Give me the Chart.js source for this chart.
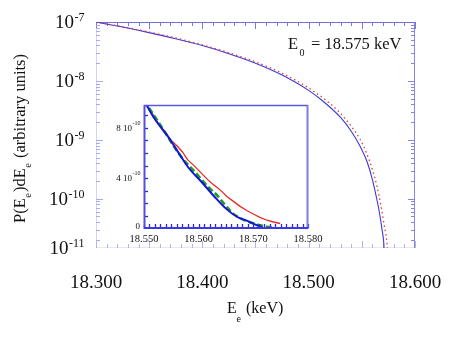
<!DOCTYPE html>
<html><head><meta charset="utf-8">
<script src="https://cdn.jsdelivr.net/npm/chart.js@4.4.1/dist/chart.umd.min.js"></script>
<style>
html,body{margin:0;padding:0;background:#fff;}
#wrap{position:relative;width:471px;height:339px;overflow:hidden;background:#fff;}
#main{position:absolute;left:0;top:0;}
#inset{position:absolute;left:100px;top:95px;}
</style></head><body>
<div id="wrap"><canvas id="main" width="471" height="339"></canvas><canvas id="inset" width="240" height="150"></canvas></div>
<script>
// ---------- data ----------
const mainEnergyBlue = [18.300, 18.325, 18.350, 18.375, 18.400, 18.425, 18.450, 18.475, 18.500, 18.515, 18.530, 18.540, 18.548, 18.555, 18.560, 18.564, 18.567, 18.569, 18.5705, 18.5714];
const mainBlue       = [1.00e-7, 8.2e-8, 6.6e-8, 5.2e-8, 3.98e-8, 2.9e-8, 2.0e-8, 1.26e-8, 6.9e-9, 4.3e-9, 2.4e-9, 1.4e-9, 8.0e-10, 4.2e-10, 2.1e-10, 1.0e-10, 5.2e-11, 3.0e-11, 1.9e-11, 1.0e-11];
const mainEnergyRed  = [18.300, 18.325, 18.350, 18.375, 18.400, 18.425, 18.450, 18.475, 18.500, 18.515, 18.530, 18.540, 18.548, 18.555, 18.560, 18.564, 18.568, 18.571, 18.5735, 18.5748];
const mainRed        = [1.0e-7, 8.3e-8, 6.75e-8, 5.35e-8, 4.1e-8, 3.0e-8, 2.1e-8, 1.35e-8, 7.6e-9, 4.9e-9, 2.8e-9, 1.7e-9, 1.05e-9, 5.6e-10, 3.1e-10, 1.7e-10, 7.6e-11, 3.6e-11, 1.9e-11, 1.0e-11];

const insetEnergyBlue = [18.5500, 18.5520, 18.5544, 18.5565, 18.5580, 18.5605, 18.5629, 18.5650, 18.5670, 18.5690, 18.5705, 18.5718];
const insetBlue       = [1.02e-9, 8.7e-10, 7.3e-10, 5.9e-10, 4.9e-10, 3.7e-10, 2.5e-10, 1.55e-10, 0.9e-10, 0.55e-10, 0.25e-10, 0];
const insetEnergyRed  = [18.5500, 18.5526, 18.5540, 18.5550, 18.5562, 18.5570, 18.5580, 18.5590, 18.5599, 18.5608, 18.5617, 18.5626, 18.5635, 18.5644, 18.5652, 18.5663, 18.5675, 18.5688, 18.5700, 18.5712, 18.5725, 18.5737, 18.5749];
const insetRed        = [1.02e-9, 8.4e-10, 7.6e-10, 7.0e-10, 6.5e-10, 6.1e-10, 5.45e-10, 5.05e-10, 4.65e-10, 4.25e-10, 3.85e-10, 3.5e-10, 3.2e-10, 2.85e-10, 2.5e-10, 2.15e-10, 1.75e-10, 1.4e-10, 1.12e-10, 0.85e-10, 0.62e-10, 0.48e-10, 0.36e-10];
const insetEnergyGreen = [18.5500, 18.5532, 18.5568, 18.5599, 18.5617, 18.5635, 18.5650, 18.5663, 18.5676, 18.5688, 18.5700, 18.5712, 18.5724, 18.5737];
const insetGreen       = [1.02e-9, 8.1e-10, 5.7e-10, 4.2e-10, 3.3e-10, 2.55e-10, 1.75e-10, 1.15e-10, 0.8e-10, 0.55e-10, 0.38e-10, 0.22e-10, 0.1e-10, 0];

// ---------- axes / tick labels ----------
const mainXMin = 18.3, mainXMax = 18.6;
const mainYMin = 1.46e-11, mainYMax = 1e-7;
const mainXTicks = [18.3, 18.4, 18.5, 18.6];
const mainXTickLabels = ['18.300', '18.400', '18.500', '18.600'];
const mainYTicks = [1e-7, 1e-8, 1e-9, 1e-10, 1.46e-11];
const mainYTickExps = ['-7', '-8', '-9', '-10', '-11'];
const insetXMin = 18.55, insetXMax = 18.58;
const insetYMin = 0, insetYMax = 9.84e-10;
const insetXTicks = [18.55, 18.56, 18.57, 18.58];
const insetXTickLabels = ['18.550', '18.560', '18.570', '18.580'];
const insetYTicks = [0, 4e-10, 8e-10];
const insetYTickBases = ['0', '4 10', '8 10'];
const insetYTickExps = ['', '-10', '-10'];
const xTitle = ['E', 'e', ' (keV)'];
const yTitleParts = [['P(E', 0], ['e', 1], [')dE', 0], ['e', 1], [' (arbitrary units)', 0]];
const noteParts = ['E', '0', '= 18.575 keV'];

const SERIF = '"Liberation Serif", "DejaVu Serif", serif';
const pts = (xs, ys) => xs.map((x, i) => ({x: x, y: ys[i]}));
function ln(ctx, x1, y1, x2, y2, color, w) {
  ctx.beginPath(); ctx.strokeStyle = color; ctx.lineWidth = w;
  ctx.moveTo(x1, y1); ctx.lineTo(x2, y2); ctx.stroke();
}
function supLabel(ctx, base, exp, rightX, cy, bsize, esize, raise) {
  ctx.textAlign = 'left'; ctx.textBaseline = 'alphabetic';
  ctx.font = bsize + 'px ' + SERIF; const wb = ctx.measureText(base).width;
  ctx.font = esize + 'px ' + SERIF; const we = exp ? ctx.measureText(exp).width : 0;
  const xb = rightX - we - wb;
  ctx.font = bsize + 'px ' + SERIF; ctx.fillText(base, xb, cy + bsize * 0.34);
  if (exp) { ctx.font = esize + 'px ' + SERIF; ctx.fillText(exp, xb + wb + 0.5, cy - raise); }
}

// ---------- main chart ----------
const mainDecor = {
  id: 'mainDecor',
  beforeDatasetsDraw(chart) {
    const {ctx, chartArea: a, scales: {x, y}} = chart;
    ctx.save();
    ln(ctx, a.left + 0.5, a.top, a.left + 0.5, a.bottom, '#d4d4fa', 1);
    ln(ctx, a.left, a.bottom - 0.5, a.right, a.bottom - 0.5, '#e6e6f6', 1);
    ln(ctx, a.left, a.top + 0.5, a.right, a.top + 0.5, '#7070dc', 1);
    ln(ctx, a.right - 0.5, a.top, a.right - 0.5, a.bottom, '#8585e4', 1);
    for (let k = 0; k <= 30; k++) {
      const px = Math.round(x.getPixelForValue(mainXMin + k * 0.01)) + 0.5;
      const long = k % 5 === 0;
      ln(ctx, px, a.top, px, a.top + (long ? 7 : 4), '#7a7ade', 1);
      ln(ctx, px, a.bottom, px, a.bottom - (long ? 7 : 4), '#b4b4dc', 1);
    }
    for (let d = -11; d <= -8; d++) {
      for (let m = 1; m <= 9; m++) {
        const v = m * Math.pow(10, d);
        if (v < mainYMin || v > mainYMax) continue;
        const py = Math.round(y.getPixelForValue(v)) + 0.5;
        const len = m === 1 ? 7 : 4;
        ln(ctx, a.left, py, a.left + len, py, '#aaaaf0', 1);
        ln(ctx, a.right, py, a.right - len, py, '#8585e4', 1);
      }
    }
    ctx.restore();
  },
  afterDraw(chart) {
    const {ctx, chartArea: a, scales: {x, y}} = chart;
    ctx.save();
    ctx.fillStyle = '#111';
    ctx.font = '19px ' + SERIF; ctx.textAlign = 'center'; ctx.textBaseline = 'alphabetic';
    mainXTicks.forEach((v, i) => ctx.fillText(mainXTickLabels[i], x.getPixelForValue(v), 288));
    mainYTicks.forEach((v, i) => supLabel(ctx, '10', mainYTickExps[i], 84, y.getPixelForValue(v), 19, 12, 1));
    ctx.textAlign = 'left';
    ctx.font = '16px ' + SERIF; ctx.fillText(xTitle[0], 227, 313);
    ctx.font = '10px ' + SERIF; ctx.fillText(xTitle[1], 236.5, 322);
    ctx.font = '16px ' + SERIF; ctx.fillText(xTitle[2], 242, 313);
    ctx.save();
    ctx.translate(25, 223); ctx.rotate(-Math.PI / 2);
    let cx = 0;
    yTitleParts.forEach(([t, sub]) => {
      ctx.font = (sub ? 10.5 : 16.5) + 'px ' + SERIF;
      ctx.fillText(t, cx + (sub ? 0.5 : 0), sub ? 6 : 0);
      cx += ctx.measureText(t).width + (sub ? 1.5 : 0);
    });
    ctx.restore();
    ctx.font = '16.5px ' + SERIF; ctx.fillText(noteParts[0], 288, 49);
    ctx.font = '10px ' + SERIF; ctx.fillText(noteParts[1], 299.5, 56);
    ctx.font = '16.5px ' + SERIF; ctx.fillText(noteParts[2], 311, 49);
    ctx.restore();
  }
};

new Chart(document.getElementById('main'), {
  type: 'line',
  data: {datasets: [
    {data: pts(mainEnergyRed, mainRed), borderColor: '#e23c3c', borderWidth: 1.3, borderDash: [1.5, 3], pointRadius: 0, cubicInterpolationMode: 'monotone', fill: false},
    {data: pts(mainEnergyBlue, mainBlue), borderColor: '#3a3ad6', borderWidth: 1.1, pointRadius: 0, cubicInterpolationMode: 'monotone', fill: false}
  ]},
  options: {
    responsive: false, animation: false, devicePixelRatio: 1,
    layout: {padding: {left: 0, right: 56, top: 22, bottom: 0}},
    plugins: {legend: {display: false}, tooltip: {enabled: false}},
    scales: {
      x: {type: 'linear', min: mainXMin, max: mainXMax,
          grid: {display: false, drawTicks: false}, border: {display: false}, ticks: {display: false},
          afterFit: s => { s.height = 91; }},
      y: {type: 'logarithmic', min: mainYMin, max: mainYMax,
          grid: {display: false, drawTicks: false}, border: {display: false}, ticks: {display: false},
          afterFit: s => { s.width = 96; }}
    }
  },
  plugins: [mainDecor]
});

// ---------- inset ----------
const insetDecor = {
  id: 'insetDecor',
  afterDatasetsDraw(chart) {
    const {ctx, chartArea: a, scales: {x, y}} = chart;
    ctx.save();
    for (let k = 0; k <= 30; k++) {
      const px = Math.round(x.getPixelForValue(insetXMin + k * 0.001)) + 0.5;
      ln(ctx, px, a.bottom, px, a.bottom - 4, '#2a2acc', 1.3);
    }
    for (let k = 1; k <= 9; k++) {
      const py = Math.round(y.getPixelForValue(k * 1e-10)) + 0.5;
      ln(ctx, a.left, py, a.left + 4, py, '#2a2acc', 1.3);
    }
    ln(ctx, a.left, a.top + 0.5, a.right, a.top + 0.5, '#5858e2', 1.5);
    ln(ctx, a.right - 0.5, a.top, a.right - 0.5, a.bottom + 1, '#7c7ce8', 2);
    ln(ctx, a.left + 0.5, a.top, a.left + 0.5, a.bottom + 1, '#5050de', 2);
    ln(ctx, a.left, a.bottom, a.right, a.bottom, '#3a3ade', 2);
    ctx.restore();
  },
  afterDraw(chart) {
    const {ctx, chartArea: a, scales: {x, y}} = chart;
    ctx.save();
    ctx.fillStyle = '#111';
    insetYTicks.forEach((v, i) => {
      let py = y.getPixelForValue(v);
      if (v === 0) py -= 2;
      supLabel(ctx, insetYTickBases[i], insetYTickExps[i], a.left - 4, py, 9, 6, 3);
    });
    ctx.font = '10.5px ' + SERIF; ctx.textAlign = 'center'; ctx.textBaseline = 'alphabetic';
    insetXTicks.forEach((v, i) => ctx.fillText(insetXTickLabels[i], x.getPixelForValue(v), a.bottom + 14));
    ctx.restore();
  }
};

new Chart(document.getElementById('inset'), {
  type: 'line',
  data: {datasets: [
    {data: pts(insetEnergyBlue, insetBlue), borderColor: '#1414dc', borderWidth: 2, pointRadius: 0, cubicInterpolationMode: 'monotone', fill: false},
    {data: pts(insetEnergyGreen, insetGreen), borderColor: '#1f9a1f', borderWidth: 2.6, borderDash: [6, 3], pointRadius: 0, cubicInterpolationMode: 'monotone', fill: false},
    {data: pts(insetEnergyRed, insetRed), borderColor: '#e42a2a', borderWidth: 1.3, pointRadius: 0, tension: 0, fill: false}
  ]},
  options: {
    responsive: false, animation: false, devicePixelRatio: 1,
    layout: {padding: {left: 0, right: 32, top: 10, bottom: 0}},
    plugins: {legend: {display: false}, tooltip: {enabled: false}},
    scales: {
      x: {type: 'linear', min: insetXMin, max: insetXMax,
          grid: {display: false, drawTicks: false}, border: {display: false}, ticks: {display: false},
          afterFit: s => { s.height = 17; }},
      y: {type: 'linear', min: insetYMin, max: insetYMax,
          grid: {display: false, drawTicks: false}, border: {display: false}, ticks: {display: false},
          afterFit: s => { s.width = 44; }}
    }
  },
  plugins: [insetDecor]
});
</script>
</body></html>
